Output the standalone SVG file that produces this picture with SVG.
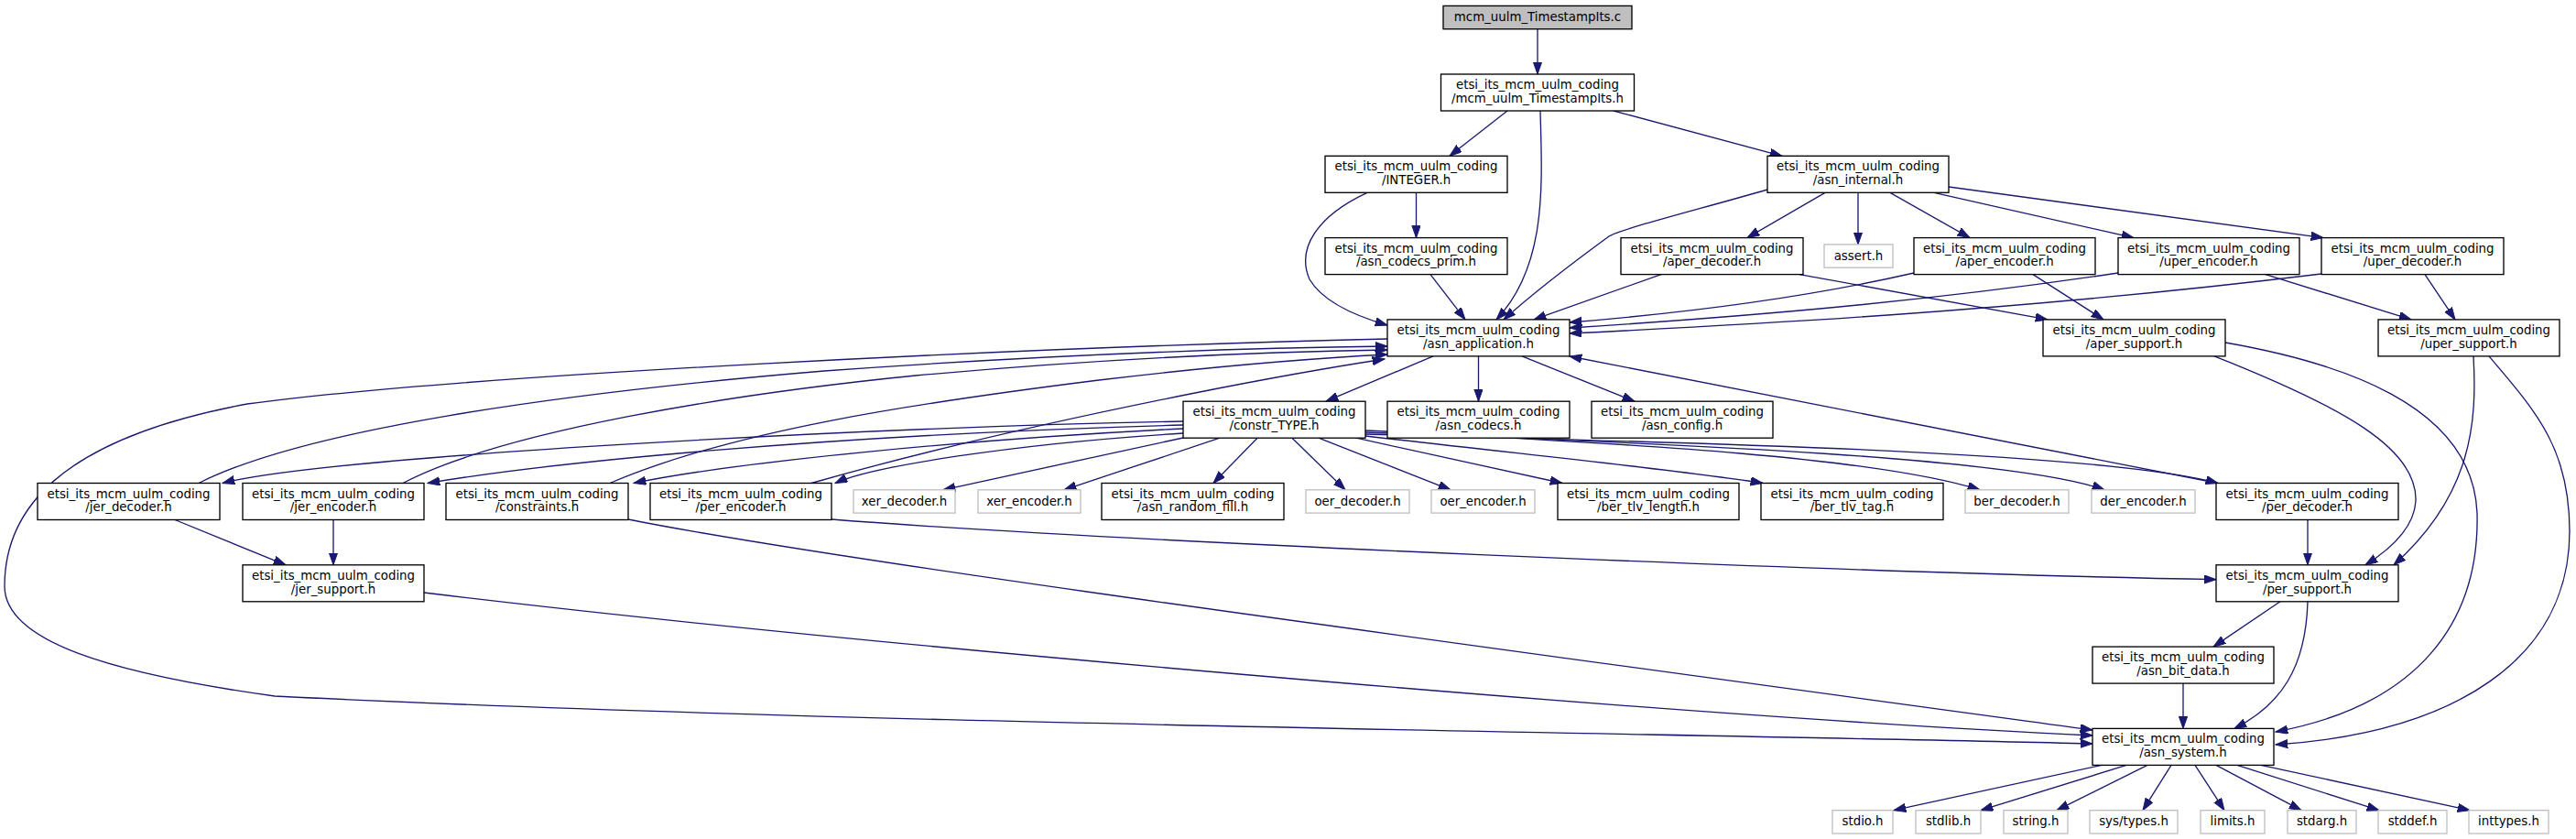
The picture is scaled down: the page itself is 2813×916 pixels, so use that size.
<svg xmlns="http://www.w3.org/2000/svg" width="2813" height="916" viewBox="0 0 2813 916">
<style>
rect{stroke-width:1.33}
.n rect{fill:#ffffff;stroke:#000000}
.x rect{fill:#ffffff;stroke:#bfbfbf}
.r rect{fill:#bfbfbf;stroke:#000000}
text{font-family:"DejaVu Sans","Liberation Sans",sans-serif;font-size:13.33px;text-anchor:middle;fill:#000000}
#edges path{fill:none;stroke:#191970;stroke-width:1.33;marker-end:url(#ah)}
</style>
<defs>
<marker id="ah" markerUnits="userSpaceOnUse" markerWidth="15" markerHeight="11" refX="13.3" refY="4.67" orient="auto">
<path d="M0,0 L13.3,4.67 L0,9.33 z" fill="#191970" stroke="#191970" stroke-width="1"/>
</marker>
</defs>
<rect width="2813" height="916" fill="#ffffff"/>
<g id="edges">
<path d="M1679,31.7 L1679,81"/>
<path d="M1646,121 L1583,170.3"/>
<path d="M1762,121 L1946,170.3"/>
<path d="M1682,121 C1684,200 1690,290 1634,348.9"/>
<path d="M1546.5,210.3 L1546.5,259.6"/>
<path d="M1493,210.3 C1440,235 1415,270 1430,305 C1445,330 1480,345 1515,355"/>
<path d="M1562,299.6 L1600,348.9"/>
<path d="M1930,207 C1850,230 1770,250 1757,258 C1720,285 1680,315 1642,348.9"/>
<path d="M1993,210.3 L1908,259.6"/>
<path d="M2029,210.3 L2029,266.9"/>
<path d="M2064,210.3 L2151,259.6"/>
<path d="M2112,210.3 L2330,259.6"/>
<path d="M2128,204 L2537,259.6"/>
<path d="M1814,299.6 L1675,348.9"/>
<path d="M1965,299.6 L2236,348.9"/>
<path d="M2090,298 C1950,330 1800,345 1714,352"/>
<path d="M2220,299.6 L2297,348.9"/>
<path d="M2313,298 C2100,330 1900,346 1714,358"/>
<path d="M2474,299.6 L2633,348.9"/>
<path d="M2535,299 C2200,340 1900,355 1714,364"/>
<path d="M2648,299.6 L2681,348.9"/>
<path d="M1565,388.9 L1448,438.2"/>
<path d="M1614.5,388.9 L1614.5,438.2"/>
<path d="M1662,388.9 L1785,438.2"/>
<path d="M1515,370 C1100,380 500,410 270,441 C60,480 5,560 5,640 C5,700 120,735 300,760 C900,790 1800,800 2285,812"/>
<path d="M1292,460 C900,468 350,500 243,527.5"/>
<path d="M1292,464 C900,475 600,505 467,527.5"/>
<path d="M1292,468 C1050,480 800,505 692,527.5"/>
<path d="M1292,473 C1100,485 950,510 912,527.5"/>
<path d="M1292,478 L1030,534.8"/>
<path d="M1332,478.2 L1162,534.8"/>
<path d="M1373,478.2 L1325,527.5"/>
<path d="M1411,478.2 L1469,534.8"/>
<path d="M1440,478.2 L1584,534.8"/>
<path d="M1481,478.2 L1706,527.5"/>
<path d="M1491,476 C1700,500 1850,515 1925,527.5"/>
<path d="M1491,470 C1800,485 2050,500 2162,534.8"/>
<path d="M1491,472 C1850,485 2200,500 2298,534.8"/>
<path d="M1491,474 C1900,484 2300,495 2422,527.5"/>
<path d="M217,527.5 C330,470 600,430 900,405 C1150,387 1350,380 1515,378"/>
<path d="M440,527.5 C550,470 800,430 1000,410 C1200,392 1380,384 1515,382"/>
<path d="M666,527.5 C800,470 1000,440 1200,415 C1300,403 1400,393 1515,387"/>
<path d="M886,527.5 C1000,495 1150,460 1300,430 C1400,410 1460,400 1512,392"/>
<path d="M191,567.5 L312,616.8"/>
<path d="M364,567.5 L364,616.8"/>
<path d="M686,567 C900,610 1500,690 2285,797"/>
<path d="M908,567 C1200,590 2000,625 2420,632.7"/>
<path d="M463,647 C900,700 1800,780 2285,803"/>
<path d="M2422,527.5 L1714,389"/>
<path d="M2520,567.5 L2520,616.8"/>
<path d="M2418,388.9 C2560,445 2640,490 2638,547 C2636,580 2605,603 2583,616.8"/>
<path d="M2430,374 C2550,395 2700,440 2705,560 C2708,680 2640,770 2485,799"/>
<path d="M2701,388.9 C2705,460 2700,540 2614,616.8"/>
<path d="M2718,388.9 C2770,450 2806,490 2806,580 C2806,720 2680,800 2485,813"/>
<path d="M2490,656.8 L2417,706.1"/>
<path d="M2520,656.8 C2518,730 2490,770 2440,795.4"/>
<path d="M2384,746.1 L2384,795.4"/>
<path d="M2295,835.4 L2068,884.7"/>
<path d="M2322,835.4 L2163,884.7"/>
<path d="M2345,835.4 L2246,884.7"/>
<path d="M2371,835.4 L2340,884.7"/>
<path d="M2397,835.4 L2429,884.7"/>
<path d="M2420,835.4 L2513,884.7"/>
<path d="M2443,835.4 L2598,884.7"/>
<path d="M2469,835.4 L2697,884.7"/>
</g>
<g id="node_c" class="r"><rect x="1576" y="6.4" width="206" height="25.3"/><text x="1679" y="23">mcm_uulm_TimestampIts.c</text></g>
<g id="node_ts" class="n"><rect x="1573.5" y="81" width="211" height="40"/><text x="1679" y="97">etsi_its_mcm_uulm_coding</text><text x="1679" y="111.7">/mcm_uulm_TimestampIts.h</text></g>
<g id="node_integer" class="n"><rect x="1447" y="170.3" width="199" height="40"/><text x="1546.5" y="186.3">etsi_its_mcm_uulm_coding</text><text x="1546.5" y="201">/INTEGER.h</text></g>
<g id="node_internal" class="n"><rect x="1930" y="170.3" width="198" height="40"/><text x="2029" y="186.3">etsi_its_mcm_uulm_coding</text><text x="2029" y="201">/asn_internal.h</text></g>
<g id="node_prim" class="n"><rect x="1447" y="259.6" width="199" height="40"/><text x="1546.5" y="275.6">etsi_its_mcm_uulm_coding</text><text x="1546.5" y="290.3">/asn_codecs_prim.h</text></g>
<g id="node_aper_dec" class="n"><rect x="1770" y="259.6" width="199" height="40"/><text x="1869.5" y="275.6">etsi_its_mcm_uulm_coding</text><text x="1869.5" y="290.3">/aper_decoder.h</text></g>
<g id="node_assert" class="x"><rect x="1992" y="266.9" width="75" height="25.3"/><text x="2029.5" y="283.6">assert.h</text></g>
<g id="node_aper_enc" class="n"><rect x="2090" y="259.6" width="198" height="40"/><text x="2189" y="275.6">etsi_its_mcm_uulm_coding</text><text x="2189" y="290.3">/aper_encoder.h</text></g>
<g id="node_uper_enc" class="n"><rect x="2313" y="259.6" width="198" height="40"/><text x="2412" y="275.6">etsi_its_mcm_uulm_coding</text><text x="2412" y="290.3">/uper_encoder.h</text></g>
<g id="node_uper_dec" class="n"><rect x="2535" y="259.6" width="199" height="40"/><text x="2634.5" y="275.6">etsi_its_mcm_uulm_coding</text><text x="2634.5" y="290.3">/uper_decoder.h</text></g>
<g id="node_app" class="n"><rect x="1515" y="348.9" width="199" height="40"/><text x="1614.5" y="364.9">etsi_its_mcm_uulm_coding</text><text x="1614.5" y="379.6">/asn_application.h</text></g>
<g id="node_aper_sup" class="n"><rect x="2231" y="348.9" width="199" height="40"/><text x="2330.5" y="364.9">etsi_its_mcm_uulm_coding</text><text x="2330.5" y="379.6">/aper_support.h</text></g>
<g id="node_uper_sup" class="n"><rect x="2597" y="348.9" width="198" height="40"/><text x="2696" y="364.9">etsi_its_mcm_uulm_coding</text><text x="2696" y="379.6">/uper_support.h</text></g>
<g id="node_constr" class="n"><rect x="1292" y="438.2" width="199" height="40"/><text x="1391.5" y="454.2">etsi_its_mcm_uulm_coding</text><text x="1391.5" y="468.9">/constr_TYPE.h</text></g>
<g id="node_codecs" class="n"><rect x="1515" y="438.2" width="199" height="40"/><text x="1614.5" y="454.2">etsi_its_mcm_uulm_coding</text><text x="1614.5" y="468.9">/asn_codecs.h</text></g>
<g id="node_config" class="n"><rect x="1738" y="438.2" width="198" height="40"/><text x="1837" y="454.2">etsi_its_mcm_uulm_coding</text><text x="1837" y="468.9">/asn_config.h</text></g>
<g id="node_jer_dec" class="n"><rect x="41" y="527.5" width="199" height="40"/><text x="140.5" y="543.5">etsi_its_mcm_uulm_coding</text><text x="140.5" y="558.2">/jer_decoder.h</text></g>
<g id="node_jer_enc" class="n"><rect x="265" y="527.5" width="198" height="40"/><text x="364" y="543.5">etsi_its_mcm_uulm_coding</text><text x="364" y="558.2">/jer_encoder.h</text></g>
<g id="node_constraints" class="n"><rect x="487" y="527.5" width="199" height="40"/><text x="586.5" y="543.5">etsi_its_mcm_uulm_coding</text><text x="586.5" y="558.2">/constraints.h</text></g>
<g id="node_per_enc" class="n"><rect x="710" y="527.5" width="198" height="40"/><text x="809" y="543.5">etsi_its_mcm_uulm_coding</text><text x="809" y="558.2">/per_encoder.h</text></g>
<g id="node_xer_dec" class="x"><rect x="932" y="534.8" width="111" height="25.3"/><text x="987.5" y="551.5">xer_decoder.h</text></g>
<g id="node_xer_enc" class="x"><rect x="1068" y="534.8" width="112" height="25.3"/><text x="1124" y="551.5">xer_encoder.h</text></g>
<g id="node_random" class="n"><rect x="1203" y="527.5" width="199" height="40"/><text x="1302.5" y="543.5">etsi_its_mcm_uulm_coding</text><text x="1302.5" y="558.2">/asn_random_fill.h</text></g>
<g id="node_oer_dec" class="x"><rect x="1426" y="534.8" width="113" height="25.3"/><text x="1482.5" y="551.5">oer_decoder.h</text></g>
<g id="node_oer_enc" class="x"><rect x="1563" y="534.8" width="113" height="25.3"/><text x="1619.5" y="551.5">oer_encoder.h</text></g>
<g id="node_ber_len" class="n"><rect x="1701" y="527.5" width="198" height="40"/><text x="1800" y="543.5">etsi_its_mcm_uulm_coding</text><text x="1800" y="558.2">/ber_tlv_length.h</text></g>
<g id="node_ber_tag" class="n"><rect x="1923" y="527.5" width="199" height="40"/><text x="2022.5" y="543.5">etsi_its_mcm_uulm_coding</text><text x="2022.5" y="558.2">/ber_tlv_tag.h</text></g>
<g id="node_ber_dec" class="x"><rect x="2146" y="534.8" width="113" height="25.3"/><text x="2202.5" y="551.5">ber_decoder.h</text></g>
<g id="node_der_enc" class="x"><rect x="2284" y="534.8" width="113" height="25.3"/><text x="2340.5" y="551.5">der_encoder.h</text></g>
<g id="node_per_dec" class="n"><rect x="2420" y="527.5" width="199" height="40"/><text x="2519.5" y="543.5">etsi_its_mcm_uulm_coding</text><text x="2519.5" y="558.2">/per_decoder.h</text></g>
<g id="node_jer_sup" class="n"><rect x="265" y="616.8" width="198" height="40"/><text x="364" y="632.8">etsi_its_mcm_uulm_coding</text><text x="364" y="647.5">/jer_support.h</text></g>
<g id="node_per_sup" class="n"><rect x="2420" y="616.8" width="199" height="40"/><text x="2519.5" y="632.8">etsi_its_mcm_uulm_coding</text><text x="2519.5" y="647.5">/per_support.h</text></g>
<g id="node_bit_data" class="n"><rect x="2285" y="706.1" width="198" height="40"/><text x="2384" y="722.1">etsi_its_mcm_uulm_coding</text><text x="2384" y="736.8">/asn_bit_data.h</text></g>
<g id="node_system" class="n"><rect x="2285" y="795.4" width="198" height="40"/><text x="2384" y="811.4">etsi_its_mcm_uulm_coding</text><text x="2384" y="826.1">/asn_system.h</text></g>
<g id="node_stdio" class="x"><rect x="2001" y="884.7" width="66" height="25.3"/><text x="2034" y="901.4">stdio.h</text></g>
<g id="node_stdlib" class="x"><rect x="2092" y="884.7" width="71" height="25.3"/><text x="2127.5" y="901.4">stdlib.h</text></g>
<g id="node_string" class="x"><rect x="2188" y="884.7" width="70" height="25.3"/><text x="2223" y="901.4">string.h</text></g>
<g id="node_systypes" class="x"><rect x="2282" y="884.7" width="96" height="25.3"/><text x="2330" y="901.4">sys/types.h</text></g>
<g id="node_limits" class="x"><rect x="2403" y="884.7" width="70" height="25.3"/><text x="2438" y="901.4">limits.h</text></g>
<g id="node_stdarg" class="x"><rect x="2498" y="884.7" width="75" height="25.3"/><text x="2535.5" y="901.4">stdarg.h</text></g>
<g id="node_stddef" class="x"><rect x="2597" y="884.7" width="75" height="25.3"/><text x="2634.5" y="901.4">stddef.h</text></g>
<g id="node_inttypes" class="x"><rect x="2696" y="884.7" width="87" height="25.3"/><text x="2739.5" y="901.4">inttypes.h</text></g>
</svg>
